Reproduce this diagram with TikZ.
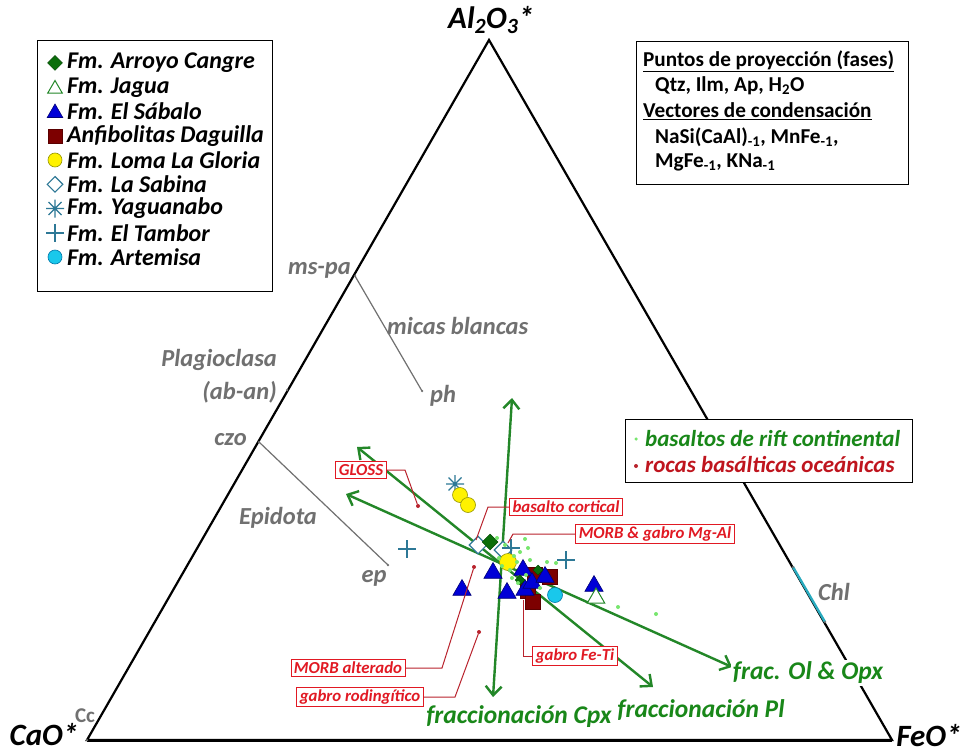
\documentclass[tikz,border=0pt]{standalone}
\usepackage{fontspec}
\setmainfont{Carlito}
\usetikzlibrary{shapes.geometric,arrows.meta}
\definecolor{grn}{RGB}{35,135,40}
\definecolor{txtgrn}{RGB}{25,135,25}
\definecolor{lgrn}{RGB}{120,230,110}
\definecolor{redc}{RGB}{225,25,35}
\definecolor{leadred}{RGB}{185,35,45}
\definecolor{greyc}{RGB}{112,112,112}
\definecolor{blu}{RGB}{0,0,215}
\definecolor{maroonc}{RGB}{125,0,0}
\definecolor{steel}{RGB}{45,120,150}
\definecolor{dgreen}{RGB}{10,110,10}
\definecolor{cyanc}{RGB}{25,200,235}
\definecolor{chlc}{RGB}{40,170,190}
\begin{document}
\begin{tikzpicture}[x=1pt,y=-1pt,
  sabalo/.style={regular polygon,regular polygon sides=3,fill=blu,draw={rgb,255:red,0;green,0;blue,120},line width=0.6,minimum size=21pt,inner sep=0pt},
  jagua/.style={regular polygon,regular polygon sides=3,fill=white,draw=grn,line width=1,minimum size=20pt,inner sep=0pt},
  daguilla/.style={rectangle,fill=maroonc,draw={rgb,255:red,90;green,0;blue,0},line width=0.5,minimum size=15pt,inner sep=0pt},
  gloria/.style={circle,fill=yellow,draw={rgb,255:red,150;green,150;blue,0},line width=0.6,minimum size=15pt,inner sep=0pt},
  sabina/.style={diamond,fill=white,draw=steel,line width=1.1,minimum size=18pt,inner sep=0pt},
  cangre/.style={diamond,fill=dgreen,draw={rgb,255:red,0;green,70;blue,0},line width=0.5,minimum size=16pt,inner sep=0pt},
  artemisa/.style={circle,fill=cyanc,draw={rgb,255:red,0;green,120;blue,170},line width=0.6,minimum size=15pt,inner sep=0pt},
  gdot/.style={circle,fill=lgrn,inner sep=0pt,minimum size=4pt},
  rdot/.style={circle,fill=leadred,inner sep=0pt,minimum size=4pt},
  greydot/.style={circle,fill=greyc,inner sep=0pt,minimum size=2.5pt},
  tambor/.pic={\draw[steel,line width=1.4] (-9,0)--(9,0) (0,-9)--(0,9);},
  yagua/.pic={\draw[steel,line width=1.3] (-9,0)--(9,0) (0,-9)--(0,9) (-6.5,-6.5)--(6.5,6.5) (-6.5,6.5)--(6.5,-6.5);},
  legtext/.style={anchor=west,inner sep=0pt,font=\fontsize{24}{26}\selectfont\bfseries\itshape},
  boxtext/.style={anchor=west,inner sep=0pt,font=\fontsize{21.2}{23}\selectfont\bfseries},
  greylab/.style={text=greyc,inner sep=0pt,font=\fontsize{24.5}{26}\selectfont\bfseries\itshape},
  greenlab/.style={text=txtgrn,inner sep=2pt,fill=white,font=\fontsize{25.5}{27}\selectfont\bfseries\itshape},
  rlabel/.style={draw=redc,fill=white,text=redc,line width=0.9,inner xsep=3pt,inner ysep=2.5pt,font=\fontsize{16.8}{18}\selectfont\bfseries\itshape},
  leader/.style={draw=leadred,line width=1},
  garrow/.style={draw=grn,line width=2.4,{Straight Barb[length=9pt,width=16pt]}-{Straight Barb[length=9pt,width=16pt]}},
  greyline/.style={draw=greyc,line width=1.2},
  corner/.style={inner sep=0pt,font=\fontsize{31}{33}\selectfont\bfseries\itshape}
]
\useasboundingbox (0,0) rectangle (965,754);
\fill[white] (0,0) rectangle (965,754);

% triangle
\coordinate (A) at (489,40);
\coordinate (C) at (87,740);
\coordinate (F) at (892,740);
\draw[line width=2.2,line join=miter] (C) -- (A) -- (F) -- cycle;
\draw[line width=3] (C) -- (F);

% chlorite segment
\coordinate (chl1) at (793,567);
\coordinate (chl2) at (825,622);
\draw[chlc,line width=2.4] (chl1) -- (chl2);
\node[greydot] (dchl1) at (chl1) {};
\node[greydot] (dchl2) at (chl2) {};

% grey tie lines
\coordinate (mspa) at (355,276);
\coordinate (ph) at (422,391);
\coordinate (czo) at (259,442);
\coordinate (ep) at (388,565);
\coordinate (plag) at (287,390);
\draw[greyline] (mspa) -- (ph);
\draw[greyline] (czo) -- (ep);
\node[greydot] (dmspa) at (mspa) {};
\node[greydot] (dph) at (ph) {};
\node[greydot] (dczo) at (czo) {};
\node[greydot] (dep) at (ep) {};
\node[greydot] (dplag) at (plag) {};
\node[greydot] (dcc) at (C) {};

% green fractionation arrows
\coordinate (g1a) at (346,494); \coordinate (g1b) at (732,667);
\coordinate (g2a) at (357,447); \coordinate (g2b) at (653,687);
\coordinate (g3a) at (512,398); \coordinate (g3b) at (493,697);
\draw[garrow] (g1a) -- (g1b);
\draw[garrow] (g2a) -- (g2b);
\draw[garrow] (g3a) -- (g3b);

% data points
\pic at (455,484) {yagua};
\node[gloria] (y1) at (460,495) {};
\node[gloria] (y2) at (468,505) {};
\pic at (407,549) {tambor};
\pic at (566,560) {tambor};
\node[sabina] (s1) at (478,545) {};
\node[cangre] (c1) at (490,542) {};
\node[sabina] (s2) at (503,550) {};
\pic at (511,548) {tambor};
\node[gloria,minimum size=17pt] (y3) at (508,562) {};
\node[sabalo] (t1) at (462,590) {};
\node[sabalo] (t2) at (493,573) {};
\node[sabalo] (t3) at (507,593) {};
\node[daguilla] (q1) at (535,575) {};
\node[daguilla] (q2) at (550,577) {};
\node[daguilla] (q3) at (528,591) {};
\node[daguilla] (q4) at (533,602) {};
\node[sabalo] (t4) at (523,570) {};
\node[sabalo] (t5) at (525,590) {};
\node[sabalo] (t6) at (532,583) {};
\node[sabalo] (t7) at (545,577) {};
\node[cangre,minimum size=10pt] (c2) at (520,580) {};
\node[cangre,minimum size=10pt] (c3) at (538,570) {};
\node[artemisa] (a1) at (555,595) {};
\node[sabalo] (t8) at (594,586) {};
\node[jagua] (j1) at (596,598) {};
\foreach \p [count=\i] in {(497,538),(525,539),(505,545),(514,556),(520,552),(499,558),(510,570),(526,575),(517,562),(540,588),(547,562),(556,563),(618,607),(656,614),(528,548),(518,583),(502,566),(512,578),(530,560)}
  \node[gdot] (gd\i) at \p {};

% red labels and leaders
\node[rdot] (rgloss) at (418,506) {};
\node[rlabel] (lgloss) at (361,470) {GLOSS};
\draw[leader] (lgloss.east) -- (405,470) -- (rgloss);

\coordinate (rbas) at (476,540);
\node[rlabel] (lbas) at (566,507) {basalto cortical};
\draw[leader] (lbas.west) -- (488,507) -- (rbas);

\coordinate (rmorb) at (508,543);
\node[rlabel] (lmorb) at (655,534) {MORB \& gabro Mg-Al};
\draw[leader] (lmorb.west) -- (513,534) -- (rmorb);

\coordinate (rfeti) at (523,600);
\node[rlabel] (lfeti) at (575,656) {gabro Fe-Ti};
\draw[leader] (lfeti.west) -- (523,656) -- (rfeti);

\node[rdot] (ralt) at (474,567) {};
\node[rlabel] (lalt) at (348,668) {MORB alterado};
\draw[leader] (lalt.east) -- (442,668) -- (ralt);

\node[rdot] (rrod) at (479,632) {};
\node[rlabel] (lrod) at (360,697) {gabro rodingítico};
\draw[leader] (lrod.east) -- (455,697) -- (rrod);

% grey labels
\node[greylab,anchor=east] (tmspa) at (351,270) {ms-pa};
\node[greylab,anchor=west] (tmicas) at (387,326) {micas blancas};
\node[greylab,anchor=west] (tph) at (430,396) {ph};
\node[greylab,anchor=east] (tplag) at (277,360) {Plagioclasa};
\node[greylab,anchor=east] (tab) at (277,392) {(ab-an)};
\node[greylab,anchor=east] (tczo) at (247,440) {czo};
\node[greylab] (tepi) at (278,518) {Epidota};
\node[greylab] (tep) at (374,578) {ep};
\node[greylab] (tchl) at (834,592) {Chl};
\node[text=greyc,inner sep=0pt,font=\fontsize{21}{22}\selectfont\bfseries] (tcc) at (85,716) {Cc};

% green labels
\node[greenlab] (tcpx) at (519,717) {fraccionación Cpx};
\node[greenlab] (tpl) at (701,710) {fraccionación Pl};
\node[greenlab] (tol) at (808,673) {frac. Ol \& Opx};

% corner labels
\node[corner] (tal) at (491,20) {Al\textsubscript{2}O\textsubscript{3}*};
\node[corner] (tca) at (44,735) {CaO*};
\node[corner] (tfe) at (929,736) {FeO*};

% legend box 1
\node[draw,line width=1.3,minimum width=235pt,minimum height=251pt,anchor=north west,inner sep=0pt] (leg1) at (37,40) {};
\node[cangre,minimum size=15pt] (m1) at (55,63) {};
\node[legtext] (l1) at (67,63) {Fm. Arroyo Cangre};
\node[jagua,minimum size=17pt] (m2) at (55,89) {};
\node[legtext] (l2) at (67,87.3) {Fm. Jagua};
\node[sabalo,minimum size=18pt] (m3) at (55,113) {};
\node[legtext] (l3) at (67,111.5) {Fm. El Sábalo};
\node[daguilla,minimum size=14pt] (m4) at (55,135.8) {};
\node[legtext] (l4) at (67,135.8) {Anfibolitas Daguilla};
\node[gloria,minimum size=14pt] (m5) at (55,160) {};
\node[legtext] (l5) at (67,160) {Fm. Loma La Gloria};
\node[sabina,minimum size=16pt] (m6) at (55,184.3) {};
\node[legtext] (l6) at (67,184.3) {Fm. La Sabina};
\pic at (55,208.5) {yagua};
\node[legtext] (l7) at (67,208.5) {Fm. Yaguanabo};
\pic at (55,232.8) {tambor};
\node[legtext] (l8) at (67,232.8) {Fm. El Tambor};
\node[artemisa,minimum size=14pt] (m9) at (55,257) {};
\node[legtext] (l9) at (67,257) {Fm. Artemisa};

% legend box 2
\node[draw,line width=1.3,minimum width=272pt,minimum height=143pt,anchor=north west,inner sep=0pt] (leg2) at (636,41) {};
\node[boxtext] (b1) at (643,61) {\underline{Puntos de proyección (fases)}};
\node[boxtext] (b2) at (655,86) {Qtz, Ilm, Ap, H\textsubscript{2}O};
\node[boxtext] (b3) at (643,111) {\underline{Vectores de condensación}};
\node[boxtext] (b4) at (655,137) {NaSi(CaAl)\textsubscript{-1}, MnFe\textsubscript{-1},};
\node[boxtext] (b5) at (655,162) {MgFe\textsubscript{-1}, KNa\textsubscript{-1}};

% legend box 3
\node[draw,fill=white,line width=1.3,minimum width=287pt,minimum height=63pt,anchor=north west,inner sep=0pt] (leg3) at (625,419) {};
\node[circle,fill=lgrn,inner sep=0pt,minimum size=3.5pt] (k1) at (636,439) {};
\node[anchor=west,inner sep=0pt,text=txtgrn,font=\fontsize{23}{25}\selectfont\bfseries\itshape] (bt1) at (645,439) {basaltos de rift continental};
\node[circle,fill=leadred,inner sep=0pt,minimum size=4pt] (k2) at (636,466) {};
\node[anchor=west,inner sep=0pt,text=redc!85!black,font=\fontsize{23}{25}\selectfont\bfseries\itshape] (bt2) at (645,465) {rocas basálticas oceánicas};
\end{tikzpicture}
\end{document}
